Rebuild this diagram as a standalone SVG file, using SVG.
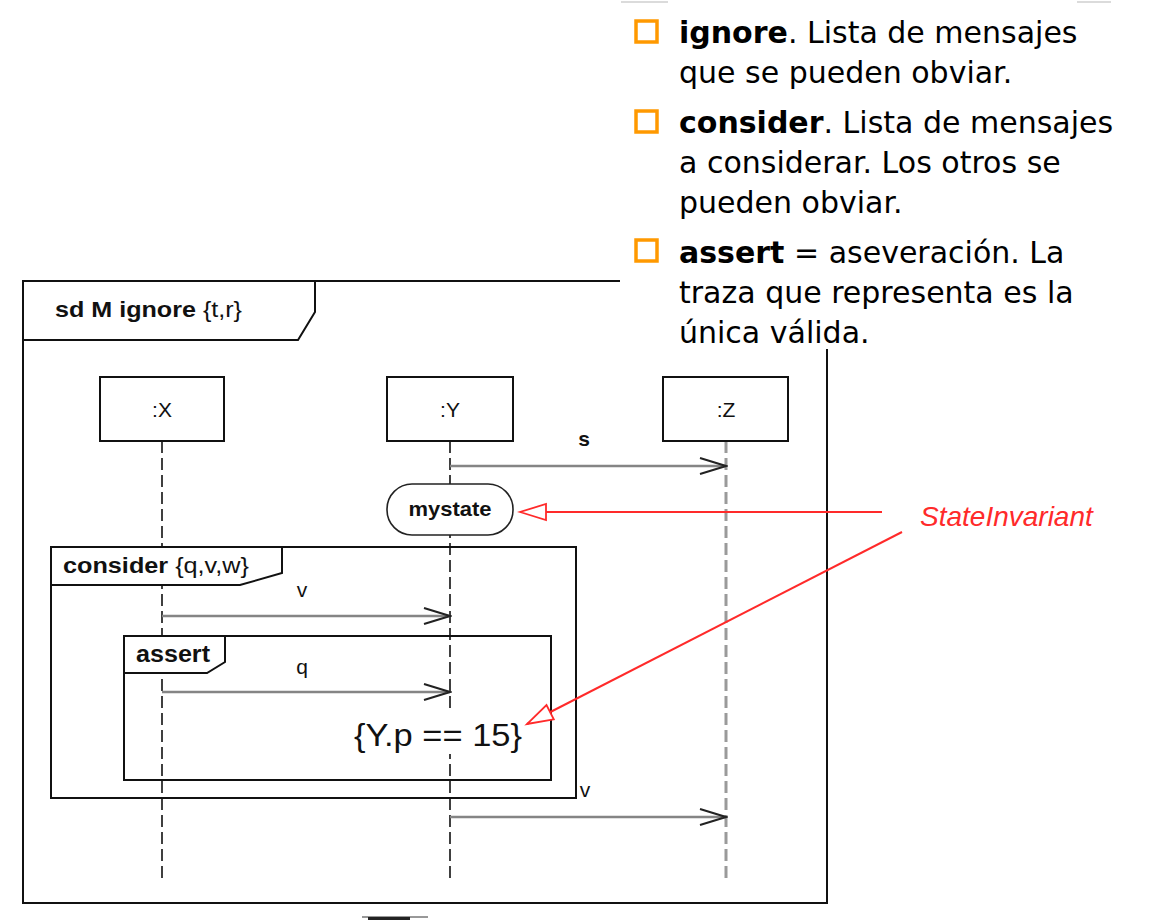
<svg xmlns="http://www.w3.org/2000/svg" width="1175" height="922" viewBox="0 0 1175 922">
<style>
.frame{fill:none;stroke:#111;stroke-width:2}
.tab{fill:#fff;stroke:#111;stroke-width:2}
.box{fill:#fff;stroke:#111;stroke-width:2}
.lbl{font-family:"Liberation Sans",Arial,sans-serif;fill:#111}
.life{stroke:#111;stroke-width:1.6;stroke-dasharray:12 5;fill:none}
.lifeZ{stroke:#9a9a9a;stroke-width:3;stroke-dasharray:12 5;fill:none}
.msg{stroke:#858585;stroke-width:2.5;fill:none;marker-end:url(#open)}
.red{stroke:#ff2a2a;stroke-width:2;fill:none;marker-end:url(#hollow)}
.slide{font-family:"DejaVu Sans",Verdana,sans-serif;font-size:30px;fill:#000}
.bul{fill:none;stroke:#ff9900;stroke-width:3.5}
</style>
<defs>
<marker id="open" markerUnits="userSpaceOnUse" markerWidth="30" markerHeight="22" viewBox="0 0 30 22" refX="28" refY="11" orient="auto">
<path d="M2,3 L28,11 L2,19" fill="none" stroke="#222" stroke-width="2"/>
</marker>
<marker id="hollow" markerUnits="userSpaceOnUse" markerWidth="32" markerHeight="22" viewBox="0 0 32 22" refX="29" refY="11" orient="auto">
<path d="M29,11 L3,3 L3,19 Z" fill="#fff" stroke="#ff2a2a" stroke-width="1.8"/>
</marker>
</defs>

<g id="edges" stroke="#cfcfcf" stroke-width="1.5">
<line x1="621" y1="2" x2="668" y2="2"/>
<line x1="1077" y1="2" x2="1111" y2="2"/>
</g>

<g id="bullets">
<rect class="bul" x="636" y="21" width="21" height="21"/>
<rect class="bul" x="636" y="111" width="21" height="21"/>
<rect class="bul" x="636" y="240" width="21" height="21"/>
<text class="slide" x="679" y="43"><tspan font-weight="bold">ignore</tspan>. Lista de mensajes</text>
<text class="slide" x="679" y="83">que se pueden obviar.</text>
<text class="slide" x="679" y="133"><tspan font-weight="bold">consider</tspan>. Lista de mensajes</text>
<text class="slide" x="679" y="173">a considerar. Los otros se</text>
<text class="slide" x="679" y="213">pueden obviar.</text>
<text class="slide" x="679" y="263"><tspan font-weight="bold">assert</tspan> = aseveración. La</text>
<text class="slide" x="679" y="303">traza que representa es la</text>
<text class="slide" x="679" y="343">única válida.</text>
</g>

<g id="sdFrame">
<path class="frame" d="M620,281 L23,281 L23,903 L827,903 L827,349"/>
<path class="tab" d="M23,281 L315,281 L315,312 L298,340 L23,340 Z"/>
<text class="lbl" x="55" y="317" font-size="22" textLength="187" lengthAdjust="spacingAndGlyphs"><tspan font-weight="bold">sd M ignore </tspan>{t,r}</text>
</g>

<g id="lifelines">
<line class="life" x1="162" y1="441" x2="162" y2="882"/>
<line class="life" x1="450" y1="441" x2="450" y2="882"/>
<line class="lifeZ" x1="726" y1="441" x2="726" y2="882"/>
</g>

<g id="X">
<rect class="box" x="100" y="377" width="124" height="64"/>
<text class="lbl" x="162" y="417" font-size="21" text-anchor="middle">:X</text>
</g>
<g id="Y">
<rect class="box" x="387" y="377" width="126" height="64"/>
<text class="lbl" x="450" y="417" font-size="21" text-anchor="middle">:Y</text>
</g>
<g id="Z">
<rect class="box" x="663" y="377" width="125" height="64"/>
<text class="lbl" x="726" y="417" font-size="21" text-anchor="middle">:Z</text>
</g>

<g id="mystate">
<rect x="387" y="484" width="126" height="51" rx="25" ry="25" fill="#fff" stroke="#222" stroke-width="1.6"/>
<text class="lbl" x="450" y="516" font-size="21" font-weight="bold" text-anchor="middle" textLength="83" lengthAdjust="spacingAndGlyphs">mystate</text>
</g>

<g id="consider">
<rect class="frame" x="51" y="547" width="525" height="251"/>
<path class="tab" d="M51,547 L282,547 L282,573 L240,585 L51,585 Z"/>
<text class="lbl" x="63" y="573" font-size="22" textLength="186" lengthAdjust="spacingAndGlyphs"><tspan font-weight="bold">consider </tspan>{q,v,w}</text>
</g>

<g id="assert">
<rect class="frame" x="124" y="636" width="427" height="144"/>
<path class="tab" d="M124,636 L225,636 L225,662 L207,673 L124,673 Z"/>
<text class="lbl" x="136" y="662" font-size="23" font-weight="bold" textLength="74" lengthAdjust="spacingAndGlyphs">assert</text>
</g>

<g id="invariant">
<rect x="352" y="710" width="172" height="44" fill="#fff"/>
<text class="lbl" x="354" y="746" font-size="32" textLength="168" lengthAdjust="spacingAndGlyphs">{Y.p == 15}</text>
</g>

<g id="connectors">
<line class="msg" x1="450" y1="466" x2="726" y2="466"/>
<text class="lbl" x="584" y="446" font-size="21" font-weight="bold" text-anchor="middle">s</text>
<line class="msg" x1="162" y1="616" x2="450" y2="616"/>
<text class="lbl" x="302" y="597" font-size="21" text-anchor="middle">v</text>
<line class="msg" x1="162" y1="692" x2="450" y2="692"/>
<text class="lbl" x="302" y="674" font-size="21" text-anchor="middle">q</text>
<line class="msg" x1="450" y1="817" x2="726" y2="817"/>
<text class="lbl" x="585" y="797" font-size="21" text-anchor="middle">v</text>
<line class="red" x1="882" y1="512" x2="520" y2="512"/>
<line class="red" x1="902" y1="532" x2="527" y2="724"/>
</g>

<g id="stateInvariantLabel">
<text x="920" y="526" font-family="'Liberation Sans',Arial,sans-serif" font-size="28" font-style="italic" fill="#ff2a2a">StateInvariant</text>
</g>

<g id="bottomMark">
<line x1="362" y1="917" x2="428" y2="917" stroke="#333" stroke-width="1"/>
<rect x="368" y="917" width="42" height="3" fill="#222"/>
</g>
</svg>
